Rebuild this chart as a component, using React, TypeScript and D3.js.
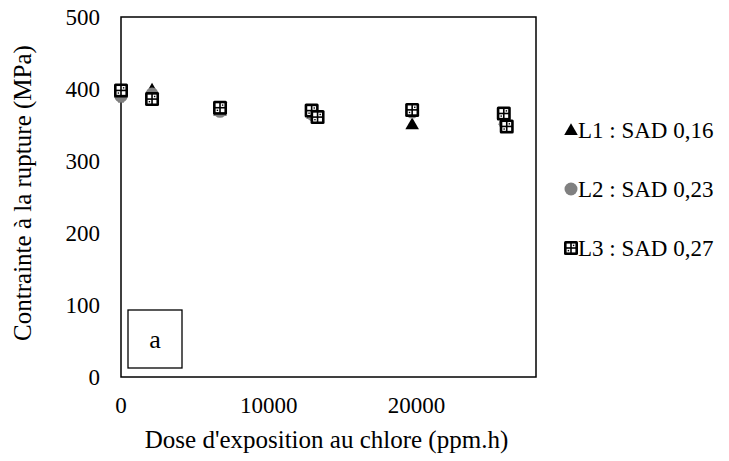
import React from "react";
import * as d3 from "d3";

const xTicks = [0, 10000, 20000];
const yTicks = [0, 100, 200, 300, 400, 500];

const l1Dose = [0, 2100, 6700, 13000, 19700, 26000];
const l1Stress = [395, 399, 370, 366, 351, 357];

const l2Dose = [0, 2100, 6700, 13000, 19700, 26000];
const l2Stress = [390, 393, 369, 364, 368, 352];
const l2Err = [8, 5, 4, 4, 4, 5];

const l3Dose = [0, 2100, 6700, 12900, 13300, 19700, 25900, 26100];
const l3Stress = [398, 386, 374, 370, 361, 371, 366, 348];

const seriesNames = ["L1 : SAD 0,16", "L2 : SAD 0,23", "L3 : SAD 0,27"];

const W = 729;
const H = 461;
const M = { left: 121, right: 536, top: 17, bottom: 377 };
const FONT = "Liberation Serif";

const x = d3.scaleLinear().domain([0, 28080]).range([M.left, M.right]);
const y = d3.scaleLinear().domain([0, 500]).range([M.bottom, M.top]);

const tri = d3.symbol().type(d3.symbolTriangle).size(80)() as string;

function Square({ cx, cy }: { cx: number; cy: number }) {
  const s = 14;
  const x0 = cx - s / 2;
  const y0 = cy - s / 2;
  const c = 3.6;
  const cells = [
    [2.6, 2.6],
    [7.8, 2.6],
    [2.6, 7.8],
    [7.8, 7.8],
  ];
  return (
    <g>
      <rect x={x0} y={y0} width={s} height={s} fill="#000" rx={1.5} />
      {cells.map(([dx, dy], i) => (
        <rect key={i} x={x0 + dx} y={y0 + dy} width={c} height={c} fill="#fff" />
      ))}
      <rect x={x0 + 8.9} y={y0 + 3.7} width={1.4} height={1.4} fill="#000" />
      <rect x={x0 + 3.7} y={y0 + 8.9} width={1.4} height={1.4} fill="#000" />
    </g>
  );
}

export default function App() {
  return (
    <div style={{ position: "absolute", left: 0, top: 0 }}>
      <svg width={W} height={H} style={{ display: "block" }}>
        <rect width={W} height={H} fill="#fff" />
        {/* error bars L2 */}
        {l2Dose.map((d, i) => (
          <g key={"e" + i} stroke="#808080" strokeWidth={1.3}>
            <line x1={x(d)} x2={x(d)} y1={y(l2Stress[i] - l2Err[i])} y2={y(l2Stress[i] + l2Err[i])} />
            <line x1={x(d) - 3} x2={x(d) + 3} y1={y(l2Stress[i] - l2Err[i])} y2={y(l2Stress[i] - l2Err[i])} />
            <line x1={x(d) - 3} x2={x(d) + 3} y1={y(l2Stress[i] + l2Err[i])} y2={y(l2Stress[i] + l2Err[i])} />
          </g>
        ))}
        {/* frame */}
        <rect
          x={M.left}
          y={M.top}
          width={M.right - M.left}
          height={M.bottom - M.top}
          fill="none"
          stroke="#000"
          strokeWidth={1.5}
        />
        {/* label box a */}
        <rect x={128} y={310} width={54} height={58} fill="#fff" stroke="#000" strokeWidth={1.3} />
        <text x={155} y={348} fontSize={26} textAnchor="middle" fontFamily={FONT}>a</text>
        {/* y ticks */}
        {yTicks.map((t) => (
          <text key={"y" + t} x={100} y={y(t) + 8} fontSize={23} textAnchor="end" fontFamily={FONT}>
            {t}
          </text>
        ))}
        {/* x ticks */}
        {xTicks.map((t) => (
          <text key={"x" + t} x={x(t)} y={413} fontSize={23} textAnchor="middle" fontFamily={FONT}>
            {t}
          </text>
        ))}
        <text x={(M.left + M.right) / 2 - 2} y={448} fontSize={25} textAnchor="middle" fontFamily={FONT}>
          Dose d'exposition au chlore (ppm.h)
        </text>
        <text
          transform={`translate(31, ${(M.top + M.bottom) / 2 - 4}) rotate(-90)`}
          fontSize={25}
          textAnchor="middle"
          fontFamily={FONT}
        >
          Contrainte à la rupture (MPa)
        </text>
        {/* L1 */}
        {l1Dose.map((d, i) => (
          <path key={"a" + i} d={tri} transform={`translate(${x(d)},${y(l1Stress[i]) + 1})`} fill="#000" />
        ))}
        {/* L2 */}
        {l2Dose.map((d, i) => (
          <circle key={"b" + i} cx={x(d)} cy={y(l2Stress[i])} r={6.5} fill="#808080" />
        ))}
        {/* L3 */}
        {l3Dose.map((d, i) => (
          <Square key={"c" + i} cx={x(d)} cy={y(l3Stress[i])} />
        ))}
        {/* legend */}
        {seriesNames.map((name, i) => {
          const cy = 130 + i * 59;
          return (
            <g key={"l" + i}>
              {i === 0 && <path d={tri} transform={`translate(571,${cy + 1})`} fill="#000" />}
              {i === 1 && <circle cx={571} cy={cy} r={6.5} fill="#808080" />}
              {i === 2 && <Square cx={571} cy={cy} />}
              <text x={578} y={cy + 8} fontSize={23} fontFamily={FONT}>
                {name}
              </text>
            </g>
          );
        })}
      </svg>
    </div>
  );
}
